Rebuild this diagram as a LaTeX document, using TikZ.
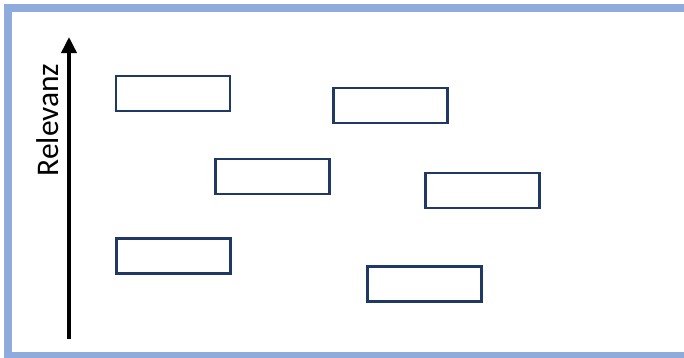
\documentclass[tikz,border=0pt]{standalone}
\usepackage{fontspec}
\setmainfont{Carlito}
\usetikzlibrary{arrows.meta}
\definecolor{framecol}{HTML}{8FAADC}
\definecolor{boxcol}{HTML}{1F3864}
\tikzset{
  itembox/.style={draw=boxcol, line width=2.8pt, fill=white, minimum width=114pt, minimum height=35pt, inner sep=0pt},
  axisarrow/.style={line width=3.6pt, -{Triangle[width=15pt,length=16pt]}},
  axislabel/.style={font=\fontsize{31.5}{31.5}\selectfont, inner sep=0pt, rotate=90}
}
\begin{document}
\begin{tikzpicture}[x=1pt,y=-1pt]
\useasboundingbox (0,0) rectangle (684,357);
\clip (0,0) rectangle (684,357);
\fill[white] (0,0) rectangle (684,357);
\draw[framecol, line width=8pt] (8,8) rectangle (700,355.5);
\node[itembox] (b1) at (173,93.5) {};
\node[itembox] (b2) at (390.5,105.5) {};
\node[itembox] (b4) at (272.5,176.5) {};
\node[itembox] (b3) at (482.5,190.5) {};
\node[itembox] (b5) at (173.5,256) {};
\node[itembox] (b6) at (424.5,284) {};
\coordinate (abot) at (69,339);
\coordinate (atop) at (69,37);
\draw[axisarrow] (abot) -- (atop);
\node[axislabel] (lab) at (47.5,120) {Relevanz};
\end{tikzpicture}
\end{document}
